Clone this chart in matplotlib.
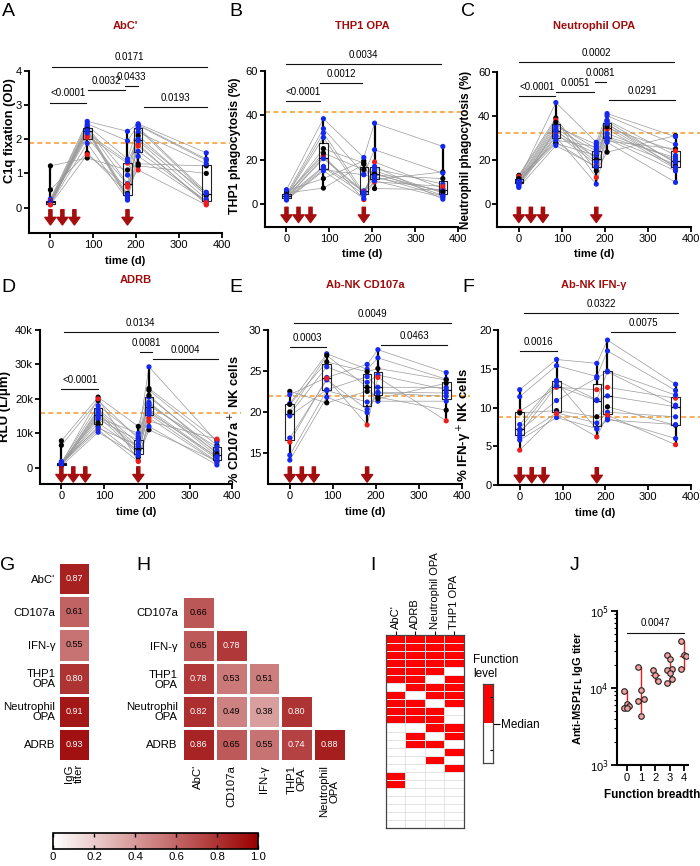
import matplotlib
matplotlib.use("Agg")
import matplotlib.pyplot as plt
import numpy as np
from matplotlib.colors import LinearSegmentedColormap, ListedColormap
from matplotlib.cm import ScalarMappable

plt.rcParams['font.family'] = ['Liberation Sans', 'DejaVu Sans']
plt.rcParams['font.size'] = 8

W, H = 700, 866

# sampling days and vaccination days
days = [0, 86, 180, 205, 364]
boosts = [0, 28, 56, 180]

# A - AbC' (one row per day, one column per subject)
abc_cols = "kkbbrbbbrbkbbbbr"
abc_vals = [
    [1.22, 0.52, 0.25, 0.22, 0.20, 0.18, 0.16, 0.15, 0.15, 0.14, 0.13, 0.12, 0.11, 0.10, 0.09, 0.08],
    [1.45, 1.60, 2.52, 2.45, 2.10, 2.40, 2.35, 2.33, 2.05, 2.30, 2.28, 2.25, 2.22, 1.88, 2.18, 1.55],
    [1.10, 0.42, 2.23, 1.95, 1.30, 1.42, 0.95, 0.70, 0.68, 0.38, 0.30, 0.32, 0.25, 0.22, 1.35, 0.60],
    [1.28, 1.22, 2.45, 2.42, 1.85, 2.40, 2.35, 2.30, 1.10, 2.20, 2.10, 1.95, 1.65, 1.50, 2.00, 1.80],
    [1.22, 1.00, 1.60, 1.42, 0.10, 1.38, 0.45, 0.40, 0.08, 1.28, 0.35, 0.25, 0.20, 0.18, 0.42, 0.15],
]
abc_ref = 1.9
abc_p = [(0, 84, 3.07, '<0.0001'), (87, 175, 3.44, '0.0032'), (175, 205, 3.56, '0.0433'),
         (4, 365, 4.12, '0.0171'), (219, 365, 2.93, '0.0193')]

# B - THP1 OPA
thp_cols = "kkbbrbkbrbbkbbb"
thp_vals = [
    [6.0, 5.0, 6.5, 4.5, 4.0, 3.8, 3.5, 3.2, 3.0, 2.5, 2.2, 4.2, 1.8, 3.6, 2.8],
    [11.5, 7.2, 38.5, 34.0, 22.0, 32.0, 25.0, 17.0, 21.0, 16.5, 15.5, 23.0, 15.0, 30.0, 20.5],
    [19.5, 18.0, 21.0, 13.5, 2.0, 5.0, 18.5, 6.0, 5.5, 4.5, 13.2, 15.5, 2.5, 4.0, 5.2],
    [11.0, 7.0, 36.5, 24.5, 19.0, 16.0, 13.0, 14.0, 10.0, 15.0, 12.0, 13.5, 10.5, 17.0, 12.5],
    [14.5, 6.5, 26.0, 14.0, 7.0, 9.0, 11.5, 4.0, 8.0, 5.0, 6.0, 5.5, 3.0, 2.2, 3.5],
]
thp_ref = 41.5
thp_p = [(0, 79, 46.5, '<0.0001'), (79, 175, 54.4, '0.0012'), (0, 359, 63.2, '0.0034')]

# C - Neutrophil OPA
neu_cols = "kkbrbbkbrbbbbkbb"
neu_vals = [
    [13.0, 12.0, 11.0, 12.5, 11.0, 10.5, 10.0, 10.0, 9.5, 9.5, 9.0, 8.0, 7.5, 11.5, 8.5, 10.2],
    [39.0, 28.0, 46.0, 38.0, 36.0, 35.0, 27.5, 34.0, 32.0, 33.0, 31.0, 30.5, 26.5, 37.0, 33.5, 29.0],
    [15.0, 16.5, 28.0, 12.0, 25.0, 27.0, 22.0, 24.0, 18.0, 21.0, 23.0, 9.0, 17.0, 20.0, 19.0, 26.0],
    [23.5, 28.5, 41.0, 34.5, 40.0, 38.0, 36.0, 37.5, 34.0, 30.0, 32.0, 28.0, 29.5, 35.0, 36.5, 30.5],
    [31.0, 25.0, 30.5, 24.0, 27.0, 22.0, 19.0, 18.5, 16.0, 18.0, 20.0, 9.8, 15.0, 17.0, 16.5, 21.0],
]
neu_ref = 32.0
neu_p = [(0, 85, 49.0, '<0.0001'), (87, 174, 50.8, '0.0051'), (176, 202, 55.4, '0.0081'),
         (0, 360, 64.5, '0.0002'), (210, 363, 47.1, '0.0291')]

# D - ADRB (thousands)
adrb_cols = "kkbrbbkbrbbbbkbb"
adrb_vals = [
    [7.8, 6.5, 1.5, 1.2, 1.0, 1.0, 1.0, 0.8, 1.1, 0.9, 0.7, 0.5, 1.3, 0.9, 1.0, 1.8],
    [20.5, 19.5, 18.0, 20.0, 17.0, 16.5, 12.0, 15.5, 11.0, 15.0, 14.0, 10.3, 14.5, 13.0, 16.0, 11.5],
    [12.0, 8.5, 9.0, 2.0, 7.0, 6.0, 3.0, 5.5, 1.8, 4.0, 8.0, 3.5, 10.0, 5.0, 4.5, 6.5],
    [23.0, 22.5, 29.3, 13.5, 19.0, 18.5, 11.0, 17.0, 14.5, 16.5, 20.5, 12.0, 18.0, 21.0, 15.5, 16.0],
    [8.0, 6.5, 7.5, 8.3, 3.5, 4.5, 2.0, 3.0, 1.5, 2.5, 5.0, 0.8, 6.0, 4.0, 1.8, 3.2],
]
adrb_ref = 15.8
adrb_p = [(0, 86, 22.8, '<0.0001'), (184, 212, 33.5, '0.0081'), (215, 367, 31.5, '0.0004'),
          (5, 367, 39.5, '0.0134')]

# E - Ab-NK CD107a
cd_cols = "kbbkbbbrbbk"
cd_vals = [
    [22.5, 22.1, 21.0, 20.9, 19.7, 19.5, 16.8, 16.3, 14.7, 14.1, 20.0],
    [21.1, 24.2, 27.1, 26.1, 25.5, 22.7, 23.9, 24.1, 22.6, 21.8, 26.9],
    [22.5, 25.8, 25.2, 24.9, 23.6, 24.3, 20.3, 18.4, 21.2, 19.9, 23.0],
    [21.8, 27.6, 26.6, 25.3, 24.5, 23.0, 22.3, 24.2, 21.3, 22.4, 21.6],
    [20.2, 24.8, 24.0, 23.9, 22.7, 23.0, 21.9, 18.9, 21.3, 22.3, 23.5],
]
cd_ref = 21.9
cd_p = [(0, 84, 27.96, '0.0003'), (9, 374, 30.8, '0.0049'), (213, 365, 28.2, '0.0463')]

# F - Ab-NK IFN-g
ifn_cols = "bbrkbbbbbrb"
ifn_vals = [
    [12.3, 11.4, 9.5, 9.3, 7.8, 7.0, 6.6, 6.2, 5.8, 4.5, 7.2],
    [16.2, 15.4, 12.6, 9.6, 13.5, 10.9, 12.8, 9.3, 8.7, 9.2, 13.3],
    [15.7, 14.0, 12.3, 8.8, 11.0, 13.8, 10.9, 8.0, 7.3, 6.2, 7.2],
    [18.7, 17.3, 12.6, 10.1, 14.7, 14.6, 11.5, 9.4, 8.6, 9.0, 8.4],
    [13.0, 12.2, 11.2, 7.7, 11.6, 10.3, 10.1, 8.8, 6.0, 5.2, 7.8],
]
ifn_ref = 8.8
ifn_p = [(0, 87, 17.3, '0.0016'), (11, 370, 22.15, '0.0322'), (213, 363, 19.7, '0.0075')]

# G - correlation with IgG titer
g_rows = ["AbC'", "CD107a", "IFN-γ", "THP1\nOPA", "Neutrophil\nOPA", "ADRB"]
g_vals = [0.87, 0.61, 0.55, 0.80, 0.91, 0.93]

# H - correlation between functions
h_rows = ["CD107a", "IFN-γ", "THP1\nOPA", "Neutrophil\nOPA", "ADRB"]
h_cols = ["AbC'", "CD107a", "IFN-γ", "THP1\nOPA", "Neutrophil\nOPA"]
h_vals = [
    [0.66, None, None, None, None],
    [0.65, 0.78, None, None, None],
    [0.78, 0.53, 0.51, None, None],
    [0.82, 0.49, 0.38, 0.80, None],
    [0.86, 0.65, 0.55, 0.74, 0.88],
]

# I - above-median function per subject
i_cols = ["AbC'", "ADRB", "Neutrophil OPA", "THP1 OPA"]
i_rows = [
    [1, 1, 1, 1], [1, 1, 1, 1], [1, 1, 1, 1], [1, 1, 1, 1],
    [1, 1, 1, 0], [1, 1, 0, 1], [0, 1, 1, 1], [1, 0, 1, 1],
    [1, 1, 0, 1], [1, 1, 1, 0], [1, 1, 1, 0],
    [0, 0, 1, 1], [0, 1, 0, 1], [0, 1, 1, 0],
    [0, 0, 0, 1], [0, 0, 1, 0], [0, 0, 0, 1], [1, 0, 0, 0], [1, 0, 0, 0],
    [0, 0, 0, 0], [0, 0, 0, 0], [0, 0, 0, 0], [0, 0, 0, 0], [0, 0, 0, 0],
]

# J - IgG titer by function breadth
breadth = [0, 1, 2, 3, 4]
titers = [
    [9000, 6200, 5900, 5500, 5400],
    [18500, 9300, 7200, 6800, 4300],
    [17100, 14700, 12200],
    [26500, 24000, 17500, 17000, 15500, 13000, 11500],
    [41000, 26500, 25500, 17500],
]

dot_colors = {'k': '#000000', 'b': '#1428f0', 'r': '#ee1c1c'}
dark_red = '#a00c0c'

fig = plt.figure(figsize=(W / 100, H / 100), dpi=100)


def px_axes(l, t, r, b):
    return fig.add_axes([l / W, 1 - b / H, (r - l) / W, (b - t) / H])


def course(ax, box, vals, cols, ylim, ytop, yticks, ref, brackets, ylabel, lab_x, lab_y,
           lab_size, tip=3):
    l, t, r, b = box
    n = len(cols)
    for j in range(n):
        ax.plot(days, [v[j] for v in vals], color='#9a9a9a', lw=0.5, zorder=1)
    ax.boxplot(vals, positions=days, widths=20, whis=(0, 100), showfliers=False,
               showcaps=False, manage_ticks=False,
               boxprops=dict(color='#222222', lw=0.8),
               whiskerprops=dict(color='k', lw=1.6),
               medianprops=dict(color='k', lw=0.9))
    for d, v in zip(days, vals):
        ax.scatter([d] * n, v, c=[dot_colors[c] for c in cols], s=14, zorder=3,
                   edgecolors='none')
    ax.plot([-50, 420], [ref, ref], ls=(0, (3, 2)), color='#f7a13a', lw=1.2,
            zorder=0.5, clip_on=False)
    for x1, x2, y, lab in brackets:
        ax.plot([x1, x2], [y, y], color='#111111', lw=0.8, clip_on=False)
        ax.annotate(lab, xy=((x1 + x2) / 2, y), xytext=(0, 3), textcoords='offset points',
                    ha='center', va='bottom', fontsize=7, annotation_clip=False)
    for d in boosts:
        ax.annotate('', xy=(d, tip), xycoords=('data', 'axes points'),
                    xytext=(0, 11), textcoords='offset points',
                    arrowprops=dict(width=2.3, headwidth=8, headlength=5.5,
                                    color='#a50e0e', shrink=0))
    ax.set_xlim(-50, 400)
    ax.set_ylim(*ylim)
    ax.set_xticks([0, 100, 200, 300, 400])
    ax.set_yticks(yticks)
    ax.spines['left'].set_bounds(ylim[0], ytop)
    for s in ['top', 'right']:
        ax.spines[s].set_visible(False)
    for s in ['left', 'bottom']:
        ax.spines[s].set_linewidth(1.5)
    ax.tick_params(width=1.3, length=3.5, labelsize=8, pad=1.5)
    ax.set_xlabel('time (d)', fontweight='bold', fontsize=8)
    ax.set_ylabel(ylabel, fontweight='bold', fontsize=lab_size)
    ax.yaxis.set_label_coords((lab_x - l) / (r - l), (b - lab_y) / (b - t))


boxA = (29, 50.2, 221.7, 233.3)
course(px_axes(*boxA), boxA, abc_vals, abc_cols, (-0.75, 4.6), 4, [0, 1, 2, 3, 4],
       abc_ref, abc_p, 'C1q fixation (OD)', 16, 131, 9.3, tip=6)
boxB = (265, 44.4, 458.3, 226.7)
course(px_axes(*boxB), boxB, thp_vals, thp_cols, (-10.2, 72), 60, [0, 20, 40, 60],
       thp_ref, thp_p, 'THP1 phagocytosis (%)', 241, 146, 8.8)
boxC = (497.3, 45.2, 691, 226.7)
course(px_axes(*boxC), boxC, neu_vals, neu_cols, (-10.3, 72), 60, [0, 20, 40, 60],
       neu_ref, neu_p, 'Neutrophil phagocytosis (%)', 472, 150, 8.4)
boxD = (40, 312.8, 232.3, 484.2)
axD = px_axes(*boxD)
course(axD, boxD, adrb_vals, adrb_cols, (-4.8, 45), 40, [0, 10, 20, 30, 40],
       adrb_ref, adrb_p, 'RLU (L/μm)', 11, 407, 9.5, tip=1.5)
axD.set_yticklabels(['0', '10k', '20k', '30k', '40k'])
boxE = (268.3, 305.5, 461.7, 484.3)
course(px_axes(*boxE), boxE, cd_vals, cd_cols, (11.14, 33), 30, [15, 20, 25, 30],
       cd_ref, cd_p, '% CD107a$^+$ NK cells', 243, 420, 9.3, tip=1.5)
boxF = (498.3, 302.9, 691, 485)
course(px_axes(*boxF), boxF, ifn_vals, ifn_cols, (0, 23.5), 20, [0, 5, 10, 15, 20],
       ifn_ref, ifn_p, '% IFN-γ$^+$NK cells', 474, 425, 9.5, tip=1.5)

titles = [("AbC'", 125, 26), ('THP1 OPA', 362, 26), ('Neutrophil OPA', 594, 26),
          ('ADRB', 136, 280), ('Ab-NK CD107a', 365, 285), ('Ab-NK IFN-γ', 594, 285)]
for t, x, y in titles:
    fig.text(x / W, 1 - y / H, t, ha='center', va='center', color=dark_red,
             fontweight='bold', fontsize=8)

letters = [('A', 8, 12), ('B', 236, 12), ('C', 468, 12), ('D', 8, 287), ('E', 236, 287),
           ('F', 468, 287), ('G', 8, 565), ('H', 143, 565), ('I', 373, 565), ('J', 575, 565)]
for t, x, y in letters:
    fig.text(x / W, 1 - y / H, t, ha='center', va='center', fontsize=14)

# heatmap colours
cmap = LinearSegmentedColormap.from_list('wr', ['#ffffff', '#9a0000'])

# G
axG = px_axes(58, 562, 90, 761)
g_arr = np.array(g_vals).reshape(-1, 1)
axG.pcolormesh(g_arr, cmap=cmap, vmin=0, vmax=1, edgecolors='white', linewidth=1)
axG.set_ylim(len(g_vals), 0)
for i, v in enumerate(g_vals):
    axG.text(0.5, i + 0.5, f'{v:.2f}', ha='center', va='center', fontsize=6.5,
             color='white' if v >= 0.7 else 'black')
axG.set_yticks(np.arange(len(g_rows)) + 0.5)
axG.set_yticklabels(g_rows, fontsize=8.2, linespacing=1.0)
axG.set_xticks([0.5])
axG.set_xticklabels(['IgG\ntiter'], rotation=90, fontsize=8.2, linespacing=1.0)
axG.tick_params(length=0, pad=2)
for s in axG.spines.values():
    s.set_visible(False)

# H
axH = px_axes(182, 596, 346, 761)
h_arr = np.ma.masked_invalid(np.array([[np.nan if v is None else v for v in r] for r in h_vals]))
axH.pcolormesh(h_arr, cmap=cmap, vmin=0, vmax=1, edgecolors='white', linewidth=1)
axH.set_ylim(len(h_rows), 0)
axH.set_xlim(0, len(h_cols))
for i, r in enumerate(h_vals):
    for j, v in enumerate(r):
        if v is not None:
            axH.text(j + 0.5, i + 0.5, f'{v:.2f}', ha='center', va='center', fontsize=6.5,
                     color='white' if v >= 0.7 else 'black')
axH.set_yticks(np.arange(len(h_rows)) + 0.5)
axH.set_yticklabels(h_rows, fontsize=8.2, linespacing=1.0)
axH.set_xticks(np.arange(len(h_cols)) + 0.5)
axH.set_xticklabels(h_cols, rotation=90, fontsize=8.2, linespacing=1.0)
axH.tick_params(length=0, pad=3)
for s in axH.spines.values():
    s.set_visible(False)

# colour bar
axCb = px_axes(53, 833, 258, 849)
cb = fig.colorbar(ScalarMappable(cmap=cmap, norm=plt.Normalize(0, 1)), cax=axCb,
                  orientation='horizontal')
cb.set_ticks([0, 0.2, 0.4, 0.6, 0.8, 1.0])
cb.set_ticklabels(['0', '0.2', '0.4', '0.6', '0.8', '1.0'])
axCb.tick_params(direction='in', length=3, width=1, top=True, labelsize=8.2, pad=2)
cb.outline.set_linewidth(1.2)

# I
axI = px_axes(386, 635, 464, 828)
i_arr = np.array(i_rows)
axI.pcolormesh(i_arr, cmap=ListedColormap(['#ffffff', '#ff0000']), vmin=0, vmax=1,
               edgecolors='#e4e4e4', linewidth=0.5)
axI.set_ylim(len(i_rows), 0)
axI.set_yticks([])
axI.xaxis.tick_top()
axI.set_xticks(np.arange(len(i_cols)) + 0.5)
axI.set_xticklabels(i_cols, rotation=90, fontsize=8)
axI.tick_params(axis='x', length=3, width=0.8, pad=1)
for s in axI.spines.values():
    s.set_linewidth(0.9)
    s.set_color('#444444')

fig.text(473 / W, 1 - 667 / H, 'Function\nlevel', ha='left', va='center', fontsize=8.5)
axL = px_axes(483, 684, 493, 763)
axL.imshow([[1], [0]], cmap=ListedColormap(['#ffffff', '#ff0000']), aspect='auto',
           extent=(0, 1, 0, 2), origin='upper')
axL.set_xticks([])
axL.yaxis.tick_right()
axL.set_yticks([1])
axL.set_yticklabels(['Median'], fontsize=8.5)
axL.set_yticks([0.33, 1.67], minor=True)
axL.tick_params(axis='y', which='major', length=5, width=0.8, pad=1)
axL.tick_params(axis='y', which='minor', direction='in', length=2, width=0.8)
for s in axL.spines.values():
    s.set_linewidth(0.9)
    s.set_color('#444444')

# J
axJ = px_axes(616.7, 610.7, 688, 765)
axJ.set_yscale('log')
for b, t in zip(breadth, titers):
    off = [((k % 3) - 1) * 0.18 for k in range(len(t))]
    med = np.median(t)
    axJ.plot([b, b], [min(t), max(t)], color='#ee1c1c', lw=1, zorder=1)
    axJ.plot([b - 0.28, b + 0.28], [med, med], color='#ee1c1c', lw=1, zorder=1)
    axJ.scatter([b + o for o in off], t, s=16, facecolors='#f2a0a0', edgecolors='#222222',
                linewidths=0.8, zorder=2)
axJ.plot([0, 4], [52000, 52000], color='#111111', lw=0.8)
axJ.annotate('0.0047', xy=(2, 52000), xytext=(0, 3), textcoords='offset points',
             ha='center', va='bottom', fontsize=7)
axJ.set_xlim(-0.7, 4.29)
axJ.set_ylim(1e3, 1e5)
axJ.set_xticks(breadth)
axJ.set_yticks([1e3, 1e4, 1e5])
axJ.set_yticklabels(['10$^3$', '10$^4$', '10$^5$'])
for s in ['top', 'right']:
    axJ.spines[s].set_visible(False)
for s in ['left', 'bottom']:
    axJ.spines[s].set_linewidth(1.5)
axJ.tick_params(which='major', width=1.3, length=4, labelsize=8, pad=2)
axJ.tick_params(which='minor', width=0.8, length=2)
axJ.set_xlabel('Function breadth', fontweight='bold', fontsize=8.5)
axJ.set_ylabel(r'Anti-MSP1$_{\mathbf{FL}}$ IgG titer', fontweight='bold', fontsize=8, labelpad=3)

fig.savefig('out.png', dpi=100)
